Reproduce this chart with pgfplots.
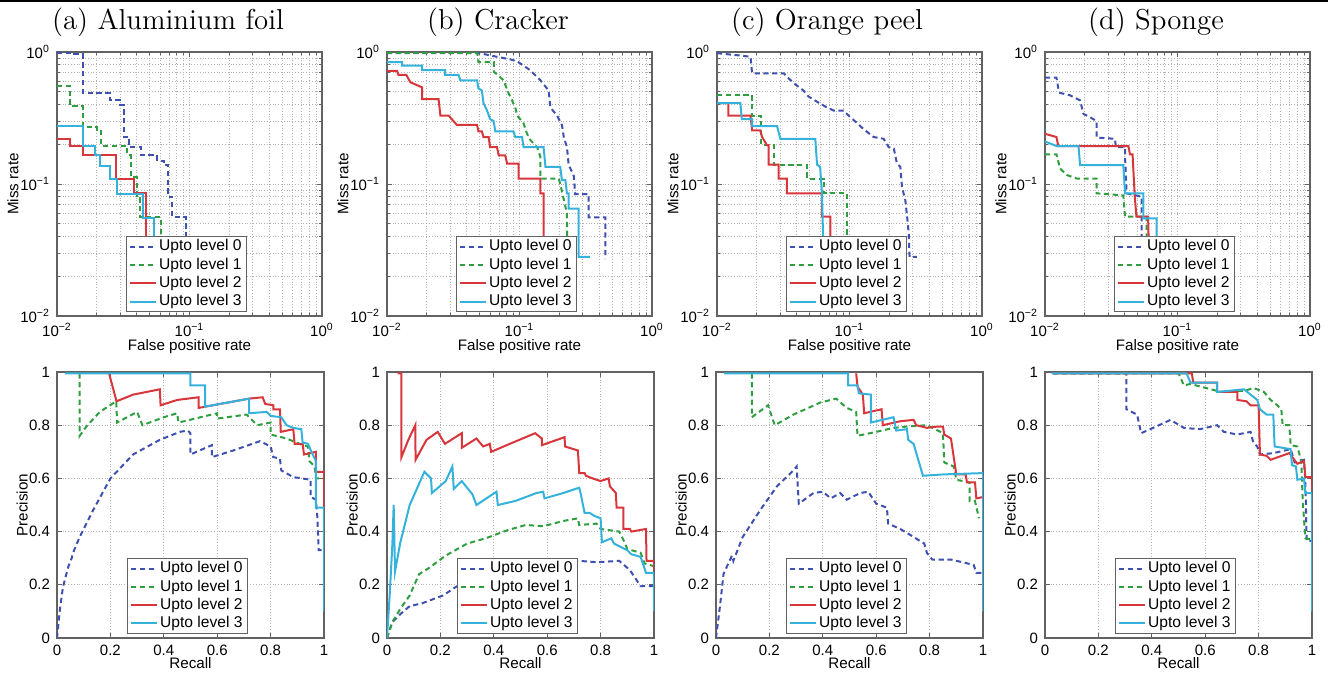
\documentclass[border=0pt]{standalone}
\usepackage{fontspec}
\usepackage{pgfplots}
\pgfplotsset{compat=1.18}
\newfontfamily\hv{Liberation Sans}
\definecolor{lv0}{HTML}{3F51B0}
\definecolor{lv1}{HTML}{2E9E3F}
\definecolor{lv2}{HTML}{D8363B}
\definecolor{lv3}{HTML}{35B2DC}
\definecolor{framegray}{HTML}{626262}

\pgfplotsset{
  legend image code/.code={\draw[#1] (0pt,0pt) -- (13pt,0pt);},
  mybase/.style={scale only axis, axis line style={framegray, line width=0.7pt}, tick style={framegray, line width=0.4pt},
    tick align=inside, major tick length=2.5pt, minor tick length=1.5pt,
    tick label style={font=\hv\fontsize{7.5}{8}\selectfont, text=black},
    label style={font=\hv\fontsize{7.6}{8}\selectfont},
    legend cell align=left,
    legend style={font=\hv\fontsize{7.8}{9}\selectfont, draw=framegray, fill=white,
      inner xsep=1.5pt, inner ysep=0.5pt, nodes={inner sep=1pt}, anchor=south east},
  },
  rocax/.style={mybase, width=132.5pt, height=132pt,
    xmin=0.01, xmax=1, ymin=0.01, ymax=1,
    xtick={0.01,0.1,1}, ytick={0.01,0.1,1},
    minor xtick={0.02,0.03,0.04,0.05,0.06,0.07,0.08,0.09,0.2,0.3,0.4,0.5,0.6,0.7,0.8,0.9},
    minor ytick={0.02,0.03,0.04,0.05,0.06,0.07,0.08,0.09,0.2,0.3,0.4,0.5,0.6,0.7,0.8,0.9},
    xticklabels={10\textsuperscript{−2},10\textsuperscript{−1},10\textsuperscript{0}},
    yticklabels={10\textsuperscript{−2},10\textsuperscript{−1},10\textsuperscript{0}},
    grid=both, major grid style={densely dotted, gray!60}, minor grid style={densely dotted, gray!60},
    xlabel={False positive rate}, ylabel={Miss rate},
    xlabel style={at={(axis description cs:0.5,-0.116)}, anchor=center},
    ylabel style={at={(axis description cs:-0.166,0.5)}, anchor=center},
    legend style={at={(0.717,0.015)}},
  },
  prax/.style={mybase, width=133.5pt, height=133pt,
    xmin=0, xmax=1, ymin=0, ymax=1,
    xtick={0,0.2,0.4,0.6,0.8,1}, ytick={0,0.2,0.4,0.6,0.8,1},
    xticklabels={0,0.2,0.4,0.6,0.8,1}, yticklabels={0,0.2,0.4,0.6,0.8,1},
    grid=major, major grid style={densely dotted, gray!60},
    xlabel={Recall}, ylabel={Precision},
    xlabel style={at={(axis description cs:0.5,-0.094)}, anchor=center},
    ylabel style={at={(axis description cs:-0.13,0.5)}, anchor=center},
    legend style={at={(0.715,0.015)}},
  },
  l0/.style={lv0, line width=1pt, dash pattern=on 2.6pt off 1.8pt},
  l1/.style={lv1, line width=1pt, dash pattern=on 2.6pt off 1.8pt},
  l2/.style={lv2, line width=1pt},
  l3/.style={lv3, line width=1pt},
}

\begin{document}
\begin{tikzpicture}
\path[use as bounding box] (0,0) rectangle (664pt,-338pt);
\fill[black] (0,0) rectangle (664pt,-1.2pt);

\begin{scope}[font=\fontsize{14.4}{17}\selectfont]
\node[anchor=base] at (84pt,-14.5pt) {(a) Aluminium foil};
\node[anchor=base] at (249pt,-14.5pt) {(b) Cracker};
\node[anchor=base] at (413.5pt,-14.5pt) {(c) Orange peel};
\node[anchor=base] at (578pt,-14.5pt) {(d) Sponge};
\end{scope}

% ---- top row: miss rate vs false positive rate
\begin{loglogaxis}[rocax, at={(28.5pt,-158pt)}, anchor=south west]
\addplot[l0] coordinates {(0.01,0.98)(0.013,0.98)(0.013,0.96)(0.0157,0.96)(0.0157,0.49)(0.025,0.49)(0.025,0.43)(0.030,0.43)(0.030,0.40)(0.032,0.40)(0.032,0.227)(0.035,0.227)(0.035,0.19)(0.043,0.19)(0.043,0.165)(0.057,0.165)(0.057,0.15)(0.064,0.15)(0.064,0.14)(0.069,0.14)(0.069,0.08)(0.074,0.08)(0.074,0.056)(0.094,0.056)(0.094,0.028)};
\addplot[l1] coordinates {(0.01,0.55)(0.0126,0.55)(0.0126,0.39)(0.0157,0.39)(0.0157,0.27)(0.020,0.27)(0.020,0.25)(0.0215,0.25)(0.0215,0.195)(0.034,0.195)(0.034,0.165)(0.036,0.165)(0.036,0.113)(0.040,0.113)(0.040,0.08)(0.042,0.08)(0.042,0.056)(0.061,0.056)(0.061,0.028)};
\addplot[l2] coordinates {(0.01,0.22)(0.0126,0.22)(0.0126,0.195)(0.0157,0.195)(0.0157,0.165)(0.028,0.165)(0.028,0.11)(0.038,0.11)(0.038,0.085)(0.047,0.085)(0.047,0.028)};
\addplot[l3] coordinates {(0.01,0.275)(0.0157,0.275)(0.0157,0.195)(0.0193,0.195)(0.0193,0.165)(0.021,0.165)(0.021,0.137)(0.0253,0.137)(0.0253,0.11)(0.0284,0.11)(0.0284,0.084)(0.0446,0.084)(0.0446,0.055)(0.054,0.055)(0.054,0.028)};
\legend{Upto level 0,Upto level 1,Upto level 2,Upto level 3}
\end{loglogaxis}

\begin{loglogaxis}[rocax, at={(193.5pt,-158pt)}, anchor=south west]
\addplot[l0] coordinates {(0.01,0.98)(0.05,0.98)(0.064,0.93)(0.085,0.88)(0.096,0.85)(0.12,0.73)(0.144,0.61)(0.166,0.51)(0.171,0.38)(0.192,0.33)(0.209,0.28)(0.216,0.227)(0.228,0.19)(0.235,0.14)(0.257,0.115)(0.263,0.084)(0.333,0.084)(0.333,0.056)(0.445,0.056)(0.445,0.027)};
\addplot[l1] coordinates {(0.01,0.985)(0.048,0.985)(0.049,0.84)(0.064,0.84)(0.064,0.71)(0.076,0.61)(0.081,0.51)(0.093,0.38)(0.096,0.33)(0.107,0.29)(0.114,0.24)(0.121,0.215)(0.136,0.19)(0.144,0.16)(0.144,0.11)(0.198,0.11)(0.203,0.10)(0.228,0.06)(0.23,0.028)};
\addplot[l2] coordinates {(0.01,0.72)(0.0119,0.72)(0.0122,0.67)(0.014,0.67)(0.015,0.59)(0.0184,0.54)(0.0184,0.44)(0.0245,0.44)(0.0253,0.33)(0.0292,0.33)(0.0337,0.28)(0.0478,0.28)(0.049,0.25)(0.052,0.25)(0.0535,0.227)(0.0585,0.227)(0.06,0.19)(0.0676,0.19)(0.0697,0.165)(0.078,0.165)(0.0806,0.143)(0.0986,0.143)(0.0986,0.11)(0.1435,0.11)(0.1435,0.085)(0.152,0.085)(0.152,0.028)};
\addplot[l3] coordinates {(0.01,0.84)(0.013,0.84)(0.013,0.79)(0.0184,0.79)(0.0184,0.73)(0.0275,0.73)(0.0275,0.67)(0.0347,0.67)(0.0358,0.61)(0.0478,0.61)(0.049,0.53)(0.052,0.51)(0.0535,0.41)(0.0569,0.36)(0.06,0.31)(0.0638,0.30)(0.0657,0.25)(0.09,0.25)(0.093,0.227)(0.1045,0.227)(0.1074,0.19)(0.152,0.19)(0.157,0.135)(0.203,0.135)(0.209,0.107)(0.222,0.107)(0.228,0.085)(0.235,0.085)(0.235,0.065)(0.28,0.065)(0.28,0.028)(0.34,0.028)};
\legend{Upto level 0,Upto level 1,Upto level 2,Upto level 3}
\end{loglogaxis}

\begin{loglogaxis}[rocax, at={(358.5pt,-158pt)}, anchor=south west]
\addplot[l0] coordinates {(0.01,0.98)(0.015,0.94)(0.0179,0.92)(0.0184,0.69)(0.0319,0.69)(0.0337,0.65)(0.038,0.58)(0.045,0.51)(0.049,0.46)(0.0569,0.42)(0.0676,0.38)(0.076,0.36)(0.09,0.36)(0.1015,0.32)(0.114,0.29)(0.128,0.26)(0.152,0.227)(0.181,0.22)(0.198,0.19)(0.216,0.186)(0.228,0.143)(0.242,0.135)(0.249,0.095)(0.264,0.075)(0.272,0.057)(0.28,0.042)(0.284,0.028)(0.323,0.028)};
\addplot[l1] coordinates {(0.01,0.47)(0.0184,0.47)(0.0184,0.33)(0.0216,0.33)(0.0216,0.197)(0.0268,0.197)(0.0268,0.14)(0.0478,0.14)(0.0478,0.11)(0.0638,0.11)(0.0638,0.085)(0.0956,0.085)(0.0956,0.028)};
\addplot[l2] coordinates {(0.01,0.41)(0.0122,0.41)(0.0122,0.33)(0.0179,0.33)(0.0184,0.255)(0.0212,0.255)(0.0219,0.227)(0.0238,0.197)(0.0245,0.197)(0.0245,0.14)(0.0292,0.14)(0.0292,0.11)(0.0337,0.11)(0.0337,0.085)(0.062,0.085)(0.062,0.0565)(0.0717,0.0565)(0.0717,0.028)};
\addplot[l3] coordinates {(0.01,0.41)(0.015,0.41)(0.0154,0.31)(0.0184,0.31)(0.0184,0.274)(0.0284,0.274)(0.0301,0.22)(0.0552,0.22)(0.0569,0.14)(0.06,0.135)(0.062,0.085)(0.0638,0.028)};
\legend{Upto level 0,Upto level 1,Upto level 2,Upto level 3}
\end{loglogaxis}

\begin{loglogaxis}[rocax, at={(522.5pt,-158pt)}, anchor=south west]
\addplot[l0] coordinates {(0.01,0.64)(0.0122,0.64)(0.0126,0.53)(0.013,0.49)(0.0154,0.47)(0.0184,0.43)(0.0195,0.34)(0.0219,0.32)(0.0245,0.30)(0.0245,0.225)(0.0337,0.22)(0.0343,0.19)(0.0402,0.19)(0.0402,0.16)(0.0413,0.085)(0.0537,0.08)(0.0537,0.0565)(0.0537,0.028)};
\addplot[l1] coordinates {(0.01,0.168)(0.0122,0.168)(0.013,0.131)(0.0146,0.117)(0.0174,0.11)(0.0245,0.11)(0.0245,0.085)(0.039,0.082)(0.0402,0.0565)(0.0585,0.0565)(0.0585,0.028)};
\addplot[l2] coordinates {(0.01,0.24)(0.0122,0.227)(0.0126,0.194)(0.0426,0.194)(0.0438,0.168)(0.0458,0.168)(0.0476,0.08)(0.049,0.0565)(0.060,0.0565)(0.061,0.028)};
\addplot[l3] coordinates {(0.01,0.21)(0.0122,0.194)(0.0179,0.194)(0.0184,0.139)(0.039,0.139)(0.0402,0.085)(0.0552,0.085)(0.0552,0.055)(0.0697,0.055)(0.0697,0.028)};
\legend{Upto level 0,Upto level 1,Upto level 2,Upto level 3}
\end{loglogaxis}

% ---- bottom row: precision vs recall
\begin{axis}[prax, at={(28.5pt,-319pt)}, anchor=south west]
\addplot[l0] coordinates {(0,0)(0.01,0.1)(0.022,0.19)(0.04,0.26)(0.05,0.29)(0.055,0.30)(0.06,0.32)(0.085,0.38)(0.135,0.48)(0.2,0.6)(0.285,0.69)(0.385,0.745)(0.46,0.775)(0.49,0.78)(0.5,0.77)(0.5,0.69)(0.58,0.725)(0.58,0.68)(0.66,0.705)(0.76,0.74)(0.8,0.72)(0.81,0.68)(0.835,0.675)(0.84,0.63)(0.885,0.605)(0.95,0.595)(0.95,0.53)(0.97,0.52)(0.975,0.455)(0.98,0.33)(1,0.33)(1,0.1)};
\addplot[l1] coordinates {(0.085,0.995)(0.085,0.76)(0.11,0.795)(0.16,0.85)(0.222,0.89)(0.225,0.81)(0.3,0.85)(0.32,0.80)(0.4,0.83)(0.45,0.845)(0.455,0.81)(0.6,0.845)(0.6,0.825)(0.71,0.84)(0.75,0.80)(0.8,0.81)(0.8,0.765)(0.86,0.75)(0.915,0.727)(0.94,0.72)(0.945,0.665)(0.965,0.645)(0.97,0.6)(1,0.6)};
\addplot[l2] coordinates {(0.195,0.995)(0.223,0.89)(0.285,0.915)(0.385,0.935)(0.388,0.875)(0.45,0.895)(0.53,0.905)(0.53,0.865)(0.72,0.9)(0.77,0.905)(0.78,0.88)(0.81,0.875)(0.81,0.86)(0.835,0.86)(0.838,0.775)(0.885,0.785)(0.89,0.73)(0.92,0.73)(0.925,0.69)(0.97,0.7)(0.97,0.625)(1,0.625)(1,0.48)};
\addplot[l3] coordinates {(0.03,0.995)(0.5,0.995)(0.5,0.95)(0.555,0.95)(0.555,0.87)(0.72,0.9)(0.72,0.845)(0.785,0.85)(0.8,0.835)(0.84,0.83)(0.86,0.8)(0.885,0.79)(0.915,0.785)(0.92,0.735)(0.94,0.73)(0.955,0.695)(0.97,0.665)(0.97,0.49)(1,0.49)(1,0.1)};
\legend{Upto level 0,Upto level 1,Upto level 2,Upto level 3}
\end{axis}

\begin{axis}[prax, at={(193.5pt,-319pt)}, anchor=south west]
\addplot[l0] coordinates {(0,0)(0.02,0.06)(0.05,0.09)(0.085,0.12)(0.13,0.13)(0.21,0.16)(0.27,0.2)(0.35,0.22)(0.5,0.26)(0.6,0.28)(0.72,0.29)(0.785,0.285)(0.87,0.29)(0.91,0.255)(0.95,0.195)(1,0.195)(1,0.2)};
\addplot[l1] coordinates {(0,0)(0.02,0.06)(0.05,0.11)(0.085,0.16)(0.12,0.24)(0.16,0.265)(0.22,0.31)(0.3,0.355)(0.37,0.375)(0.45,0.405)(0.52,0.425)(0.585,0.42)(0.66,0.44)(0.715,0.45)(0.72,0.425)(0.785,0.43)(0.8,0.41)(0.87,0.40)(0.885,0.37)(0.9,0.335)(0.95,0.32)(0.965,0.28)(1,0.27)};
\addplot[l2] coordinates {(0.04,0.995)(0.054,0.995)(0.054,0.68)(0.08,0.745)(0.106,0.80)(0.107,0.67)(0.148,0.745)(0.19,0.775)(0.217,0.73)(0.28,0.77)(0.28,0.715)(0.335,0.75)(0.36,0.72)(0.385,0.73)(0.39,0.70)(0.46,0.73)(0.555,0.77)(0.58,0.75)(0.58,0.725)(0.665,0.755)(0.667,0.72)(0.715,0.705)(0.72,0.62)(0.74,0.62)(0.745,0.61)(0.77,0.6)(0.8,0.59)(0.83,0.60)(0.835,0.57)(0.857,0.545)(0.86,0.49)(0.885,0.49)(0.885,0.41)(0.91,0.41)(0.915,0.40)(0.97,0.41)(0.972,0.29)(1,0.29)(1,0.255)};
\addplot[l3] coordinates {(0,0)(0.01,0.16)(0.02,0.35)(0.025,0.5)(0.03,0.25)(0.05,0.36)(0.085,0.5)(0.14,0.625)(0.165,0.60)(0.168,0.545)(0.22,0.59)(0.245,0.645)(0.25,0.56)(0.28,0.59)(0.32,0.54)(0.335,0.50)(0.41,0.55)(0.415,0.50)(0.48,0.515)(0.56,0.545)(0.585,0.55)(0.59,0.525)(0.66,0.545)(0.72,0.565)(0.725,0.545)(0.74,0.47)(0.76,0.47)(0.775,0.46)(0.8,0.45)(0.805,0.36)(0.84,0.375)(0.85,0.355)(0.9,0.33)(0.915,0.315)(0.95,0.305)(0.97,0.245)(1,0.245)(1,0.1)};
\legend{Upto level 0,Upto level 1,Upto level 2,Upto level 3}
\end{axis}

\begin{axis}[prax, at={(358pt,-319pt)}, anchor=south west]
\addplot[l0] coordinates {(0,0)(0.015,0.12)(0.028,0.24)(0.046,0.28)(0.06,0.31)(0.065,0.29)(0.1,0.38)(0.165,0.48)(0.228,0.57)(0.29,0.63)(0.302,0.645)(0.31,0.505)(0.365,0.545)(0.40,0.55)(0.43,0.525)(0.465,0.545)(0.49,0.52)(0.54,0.545)(0.57,0.55)(0.60,0.505)(0.64,0.49)(0.645,0.43)(0.69,0.41)(0.74,0.38)(0.78,0.355)(0.79,0.32)(0.81,0.295)(0.88,0.295)(0.965,0.275)(0.975,0.245)(1,0.245)};
\addplot[l1] coordinates {(0.134,0.995)(0.134,0.83)(0.195,0.875)(0.22,0.80)(0.29,0.84)(0.39,0.885)(0.45,0.90)(0.49,0.865)(0.525,0.85)(0.53,0.76)(0.60,0.775)(0.665,0.79)(0.715,0.795)(0.79,0.80)(0.85,0.77)(0.855,0.66)(0.89,0.645)(0.9,0.595)(0.95,0.585)(0.95,0.515)(0.97,0.515)(0.985,0.45)};
\addplot[l2] coordinates {(0.525,0.995)(0.53,0.945)(0.55,0.915)(0.555,0.845)(0.62,0.86)(0.625,0.80)(0.69,0.815)(0.74,0.82)(0.75,0.80)(0.79,0.79)(0.83,0.795)(0.85,0.795)(0.855,0.765)(0.88,0.75)(0.9,0.615)(0.935,0.615)(0.94,0.585)(0.97,0.585)(0.975,0.525)(1,0.53)};
\addplot[l3] coordinates {(0.03,0.995)(0.495,0.995)(0.495,0.95)(0.53,0.95)(0.535,0.92)(0.58,0.915)(0.58,0.81)(0.665,0.83)(0.675,0.78)(0.715,0.785)(0.72,0.745)(0.74,0.73)(0.775,0.61)(0.85,0.615)(1,0.62)(1,0.1)};
\legend{Upto level 0,Upto level 1,Upto level 2,Upto level 3}
\end{axis}

\begin{axis}[prax, at={(522.5pt,-319pt)}, anchor=south west]
\addplot[l0] coordinates {(0.03,0.995)(0.305,0.995)(0.305,0.86)(0.345,0.84)(0.36,0.77)(0.405,0.79)(0.47,0.82)(0.52,0.79)(0.58,0.785)(0.645,0.80)(0.67,0.775)(0.72,0.765)(0.77,0.775)(0.78,0.735)(0.795,0.72)(0.805,0.69)(0.855,0.695)(0.92,0.71)(0.935,0.66)(0.97,0.67)(0.975,0.59)(0.98,0.365)(1,0.365)};
\addplot[l1] coordinates {(0.03,0.995)(0.5,0.995)(0.52,0.95)(0.545,0.955)(0.66,0.925)(0.75,0.93)(0.78,0.94)(0.82,0.925)(0.845,0.895)(0.87,0.875)(0.885,0.86)(0.89,0.80)(0.915,0.80)(0.92,0.725)(0.945,0.72)(0.96,0.665)(0.965,0.52)(0.975,0.375)(1,0.37)};
\addplot[l2] coordinates {(0.03,0.995)(0.55,0.995)(0.555,0.96)(0.645,0.96)(0.645,0.925)(0.72,0.925)(0.72,0.895)(0.755,0.89)(0.77,0.875)(0.8,0.875)(0.805,0.69)(0.83,0.685)(0.845,0.67)(0.915,0.695)(0.945,0.655)(0.97,0.665)(0.975,0.605)(1,0.605)(1,0.56)};
\addplot[l3] coordinates {(0.025,0.995)(0.53,0.995)(0.545,0.96)(0.645,0.96)(0.645,0.925)(0.745,0.935)(0.795,0.895)(0.805,0.86)(0.83,0.84)(0.855,0.84)(0.86,0.72)(0.92,0.71)(0.925,0.65)(0.94,0.645)(0.945,0.595)(0.97,0.60)(0.975,0.545)(1,0.545)(1,0.1)};
\legend{Upto level 0,Upto level 1,Upto level 2,Upto level 3}
\end{axis}
\end{tikzpicture}
\end{document}
